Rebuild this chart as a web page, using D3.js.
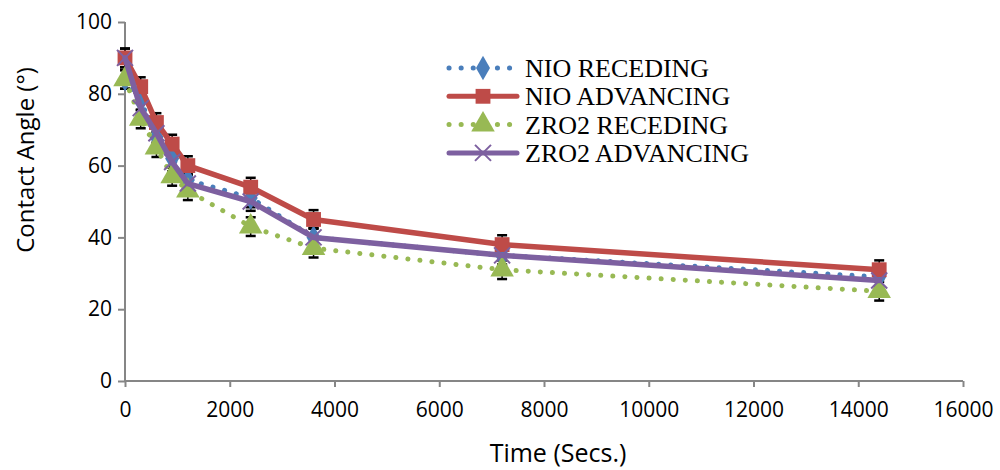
<!DOCTYPE html>
<html>
<head>
<meta charset="utf-8">
<script src="https://cdn.jsdelivr.net/npm/d3@7"></script>
<style>
body { margin: 0; background: #fff; }
.axis path, .axis line { stroke: #868686; }
.axis text { font-family: "Open Sans", sans-serif; font-size: 21px; fill: #000; }
</style>
</head>
<body>
<script>
var times = [0, 300, 600, 900, 1200, 2400, 3600, 7200, 14400];
var nioReceding = [84, 78, 68, 62, 56, 51, 40, 35, 29];
var nioAdvancing = [90, 82, 72, 66, 60, 54, 45, 38, 31];
var zroReceding = [84, 73, 65, 57, 53, 43, 37, 31, 25];
var zroAdvancing = [90, 76, 69, 61, 55, 50, 40, 35, 28];
var errSize = 2.6;
var xTicks = [0, 2000, 4000, 6000, 8000, 10000, 12000, 14000, 16000];
var yTicks = [0, 20, 40, 60, 80, 100];

var series = [
  {name: "NIO RECEDING", values: nioReceding, color: "#4A7EBB", dotted: true, symbol: "diamond"},
  {name: "NIO ADVANCING", values: nioAdvancing, color: "#BE4B48", dotted: false, symbol: "square"},
  {name: "ZRO2 RECEDING", values: zroReceding, color: "#98B954", dotted: true, symbol: "triangle"},
  {name: "ZRO2 ADVANCING", values: zroAdvancing, color: "#7D60A0", dotted: false, symbol: "cross"}
];

var margin = {top: 22, right: 37, bottom: 89, left: 125},
width = 1000 - margin.left - margin.right,
height = 470 - margin.top - margin.bottom;

var svg = d3.select("body").append("svg")
    .attr("width", 1000)
    .attr("height", 470);

var g = svg.append("g")
    .attr("transform", "translate(" + margin.left + "," + margin.top + ")");

var x = d3.scaleLinear().domain([0, 16000]).range([0, width]);
var y = d3.scaleLinear().domain([0, 100]).range([height, 0]);

var xAxis = d3.axisBottom(x).tickValues(xTicks).tickSize(6).tickFormat(d3.format("d"));
var yAxis = d3.axisLeft(y).tickValues(yTicks).tickSize(7);

g.append("g")
    .attr("class", "x axis")
    .attr("transform", "translate(0," + height + ")")
    .call(xAxis)
    .call(function(s) {
      s.select(".domain").attr("d", "M0,0H" + width);
      s.selectAll(".tick text").attr("dy", "1.3em");
      s.selectAll("path, line").attr("stroke-width", 2);
    });

g.append("g")
    .attr("class", "y axis")
    .call(yAxis)
    .call(function(s) {
      s.select(".domain").attr("d", "M0," + height + "V0");
      s.selectAll(".tick text").attr("x", -13);
      s.selectAll("path, line").attr("stroke-width", 2);
    });

svg.append("text")
    .attr("x", 558)
    .attr("y", 462)
    .attr("text-anchor", "middle")
    .style("font-family", "'Open Sans', sans-serif")
    .style("font-size", "25px")
    .text("Time (Secs.)");

svg.append("text")
    .attr("transform", "translate(34,160) rotate(-90)")
    .attr("text-anchor", "middle")
    .style("font-family", "'Open Sans', sans-serif")
    .style("font-size", "24px")
    .text("Contact Angle (°)");

function marker(sel, s) {
  var c = s.color;
  if (s.symbol === "cross") {
    sel.append("path")
      .attr("d", "M-8,-8L8,8M-8,8L8,-8")
      .attr("stroke", c).attr("stroke-width", 2).attr("fill", "none");
  } else {
    var type = {diamond: d3.symbolDiamond, square: d3.symbolSquare, triangle: d3.symbolTriangle}[s.symbol];
    var size = {diamond: 170, square: 220, triangle: 240}[s.symbol];
    sel.append("path")
      .attr("d", d3.symbol().type(type).size(size)())
      .attr("fill", c);
  }
}

var line = d3.line()
    .x(function(d) { return x(d.t); })
    .y(function(d) { return y(d.v); });

var layers = series.map(function(s) {
  return {s: s, data: times.map(function(t, i) { return {t: t, v: s.values[i]}; })};
});

// error bars below everything
layers.forEach(function(L) {
  var eb = g.append("g").selectAll(".err").data(L.data).enter().append("g")
    .attr("class", "err")
    .attr("stroke", "#000");
  eb.append("line")
    .attr("x1", function(d) { return x(d.t); })
    .attr("x2", function(d) { return x(d.t); })
    .attr("y1", function(d) { return y(d.v + errSize); })
    .attr("y2", function(d) { return y(d.v - errSize); })
    .attr("stroke-width", 1.5);
  [errSize, -errSize].forEach(function(e) {
    eb.append("line")
      .attr("x1", function(d) { return x(d.t) - 5; })
      .attr("x2", function(d) { return x(d.t) + 5; })
      .attr("y1", function(d) { return y(d.v + e); })
      .attr("y2", function(d) { return y(d.v + e); })
      .attr("stroke-width", 2.5);
  });
});

layers.forEach(function(L) {
  var s = L.s;
  var sg = g.append("g");
  sg.append("path")
    .datum(L.data)
    .attr("d", line)
    .attr("fill", "none")
    .attr("stroke", s.color)
    .attr("stroke-width", s.dotted ? 5 : 5.5)
    .attr("stroke-linecap", "round")
    .attr("stroke-linejoin", "round")
    .attr("stroke-dasharray", s.dotted ? "0.1,12" : null);

  sg.selectAll(".mk").data(L.data).enter().append("g")
    .attr("class", "mk")
    .attr("transform", function(d) { return "translate(" + x(d.t) + "," + y(d.v) + ")"; })
    .each(function() { marker(d3.select(this), s); });
});

// legend
var legend = svg.append("g").attr("transform", "translate(447,68)");
series.forEach(function(s, i) {
  var row = legend.append("g").attr("transform", "translate(0," + (i * 28.3) + ")");
  row.append("line")
    .attr("x1", 2).attr("x2", 70)
    .attr("stroke", s.color)
    .attr("stroke-width", 5)
    .attr("stroke-linecap", "round")
    .attr("stroke-dasharray", s.dotted ? "0.1,12" : null);
  var m = row.append("g").attr("transform", "translate(36,0)");
  marker(m, s);
  row.append("text")
    .attr("x", 78)
    .attr("y", 9)
    .style("font-family", "'Liberation Serif', serif")
    .style("font-size", "26px")
    .text(s.name);
});
</script>
</body>
</html>
